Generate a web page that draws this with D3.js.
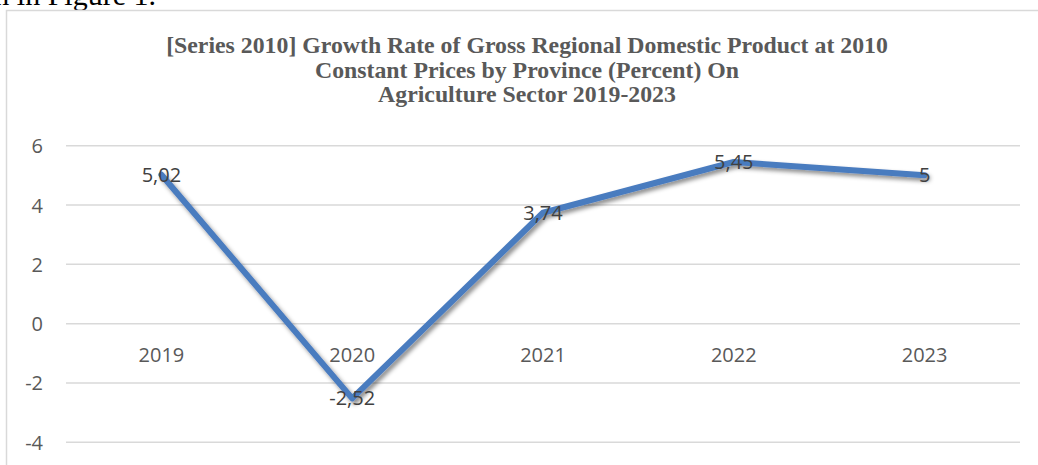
<!DOCTYPE html>
<html>
<head>
<meta charset="utf-8">
<script src="https://cdn.jsdelivr.net/npm/d3@7"></script>
<style>
  body { margin: 0; background: #fff; }
  svg { display: block; }
</style>
</head>
<body>
<svg id="chart" width="1038" height="465"></svg>
<script>
'use strict';

// chart data
const years = ['2019', '2020', '2021', '2022', '2023'];
const growth = [5.02, -2.52, 3.74, 5.45, 5];
const labels = ['5,02', '-2,52', '3,74', '5,45', '5'];
const yTicks = [-4, -2, 0, 2, 4, 6];
const titleLines = [
  '[Series 2010] Growth Rate of Gross Regional Domestic Product at 2010',
  'Constant Prices by Province (Percent) On',
  'Agriculture Sector 2019-2023'
];

const svg = d3.select('#chart');

// bit of the document text above the figure, cut off by the page edge
svg.append('text')
  .attr('x', 156)
  .attr('y', 5)
  .attr('text-anchor', 'end')
  .style('font-family', '"Liberation Serif", serif')
  .style('font-size', '30px')
  .attr('fill', '#000')
  .text('n in Figure 1.');

// chart frame (runs off the right and bottom of the page)
svg.append('rect')
  .attr('x', 6.5)
  .attr('y', 10.5)
  .attr('width', 1045)
  .attr('height', 470)
  .attr('fill', '#fff')
  .attr('stroke', '#d9d9d9')
  .attr('stroke-width', 1.5);

// title
svg.append('text')
  .attr('text-anchor', 'middle')
  .style('font-family', '"Liberation Serif", serif')
  .style('font-weight', 'bold')
  .style('font-size', '23.8px')
  .attr('fill', '#595959')
  .selectAll('tspan')
  .data(titleLines)
  .join('tspan')
  .attr('x', 527)
  .attr('y', (d, i) => 53 + i * 24.5)
  .text(d => d);

const plot = { left: 66, right: 1020, top: 145.7, bottom: 442.3 };

const x = d3.scaleBand()
  .domain(years)
  .range([plot.left, plot.right]);

const y = d3.scaleLinear()
  .domain([-4, 6])
  .range([plot.bottom, plot.top]);

// gridlines
svg.append('g')
  .selectAll('line')
  .data(yTicks)
  .join('line')
  .attr('x1', plot.left)
  .attr('x2', plot.right)
  .attr('y1', d => y(d))
  .attr('y2', d => y(d))
  .attr('stroke', '#d9d9d9')
  .attr('stroke-width', 1.5);

// y axis labels, plain hyphen for negatives like the source
const yAxis = d3.axisLeft(y)
  .tickValues(yTicks)
  .tickFormat(d => String(d))
  .tickSize(0)
  .tickPadding(0);
svg.append('g')
  .attr('transform', 'translate(43,0)')
  .call(yAxis)
  .call(g => g.select('.domain').remove())
  .call(g => g.selectAll('text')
    .attr('dy', '0.35em')
    .attr('fill', '#595959')
    .style('font-family', '"Open Sans", sans-serif')
    .style('font-size', '20px'));

// category labels sit under the zero line
const xAxis = d3.axisBottom(x).tickSize(0).tickPadding(0);
svg.append('g')
  .attr('transform', 'translate(0,' + (y(0) + 38) + ')')
  .call(xAxis)
  .call(g => g.select('.domain').remove())
  .call(g => g.selectAll('text')
    .attr('dy', 0)
    .attr('fill', '#595959')
    .style('font-family', '"Open Sans", sans-serif')
    .style('font-size', '20px'));

// soft shadow under the series line
const defs = svg.append('defs');
const shadow = defs.append('filter')
  .attr('id', 'shadow')
  .attr('x', '-10%').attr('y', '-10%')
  .attr('width', '120%').attr('height', '130%');
shadow.append('feDropShadow')
  .attr('dx', 2.5)
  .attr('dy', 3)
  .attr('stdDeviation', 2.2)
  .attr('flood-color', '#000')
  .attr('flood-opacity', 0.45);

const line = d3.line()
  .x((d, i) => x(years[i]) + x.bandwidth() / 2)
  .y(d => y(d));

svg.append('path')
  .datum(growth)
  .attr('d', line)
  .attr('fill', 'none')
  .attr('stroke', '#4a7bbf')
  .attr('stroke-width', 6)
  .attr('stroke-linejoin', 'round')
  .attr('stroke-linecap', 'round')
  .attr('filter', 'url(#shadow)');

// data labels centred on the points
svg.append('g')
  .selectAll('text')
  .data(growth)
  .join('text')
  .attr('x', (d, i) => x(years[i]) + x.bandwidth() / 2)
  .attr('y', d => y(d))
  .attr('dy', '0.35em')
  .attr('text-anchor', 'middle')
  .attr('fill', '#404040')
  .style('font-family', '"Open Sans", sans-serif')
  .style('font-size', '20px')
  .text((d, i) => labels[i]);
</script>
</body>
</html>
